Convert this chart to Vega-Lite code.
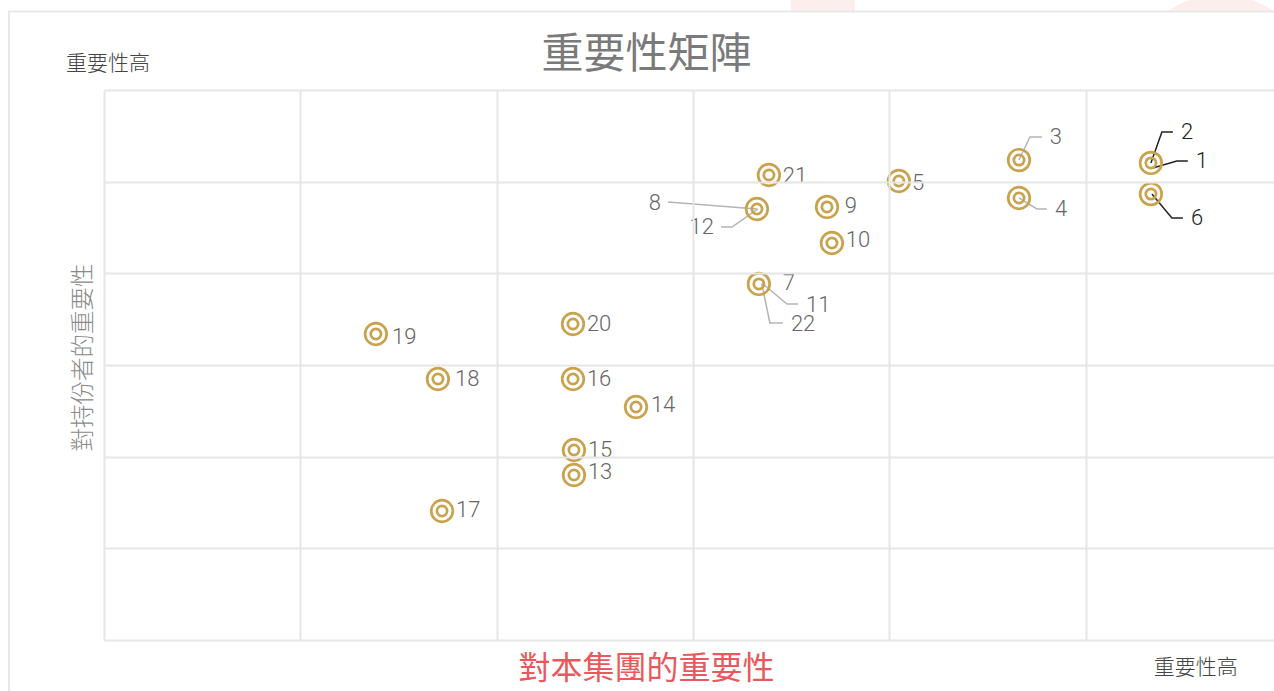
{
  "$schema": "https://vega.github.io/schema/vega-lite/v6.json",
  "autosize": "none",
  "width": 1170,
  "height": 550,
  "padding": {"left": 104, "right": 0, "top": 90, "bottom": 51},
  "background": "white",
  "view": {"stroke": null},
  "config": {
    "font": "Noto Sans CJK TC",
    "axis": {"domain": false, "ticks": false, "labels": false, "gridColor": "#e6e6e6", "gridWidth": 2}
  },
  "datasets": {
    "points": [
      {"id": "1", "x": 5.333, "y": 5.204},
      {"id": "3", "x": 4.661, "y": 5.236},
      {"id": "4", "x": 4.661, "y": 4.822},
      {"id": "5", "x": 4.049, "y": 5.007},
      {"id": "6", "x": 5.333, "y": 4.865},
      {"id": "7", "x": 3.336, "y": 3.884},
      {"id": "8", "x": 3.326, "y": 4.702},
      {"id": "9", "x": 3.683, "y": 4.724},
      {"id": "10", "x": 3.708, "y": 4.331},
      {"id": "13", "x": 2.394, "y": 1.8},
      {"id": "14", "x": 2.71, "y": 2.542},
      {"id": "15", "x": 2.394, "y": 2.073},
      {"id": "16", "x": 2.389, "y": 2.847},
      {"id": "17", "x": 1.722, "y": 1.407},
      {"id": "18", "x": 1.701, "y": 2.847},
      {"id": "19", "x": 1.385, "y": 3.338},
      {"id": "20", "x": 2.389, "y": 3.447},
      {"id": "21", "x": 3.387, "y": 5.073}
    ],
    "labels": [
      {"id": "1", "tier": "key", "side": "left", "lx": 5.562, "ly": 5.225},
      {"id": "2", "tier": "key", "side": "left", "lx": 5.486, "ly": 5.542},
      {"id": "3", "tier": "other", "side": "left", "lx": 4.818, "ly": 5.487},
      {"id": "4", "tier": "other", "side": "left", "lx": 4.844, "ly": 4.702},
      {"id": "5", "tier": "other", "side": "left", "lx": 4.116, "ly": 4.985},
      {"id": "6", "tier": "key", "side": "left", "lx": 5.537, "ly": 4.604},
      {"id": "7", "tier": "other", "side": "left", "lx": 3.458, "ly": 3.895},
      {"id": "8", "tier": "other", "side": "right", "lx": 2.837, "ly": 4.767},
      {"id": "9", "tier": "other", "side": "left", "lx": 3.774, "ly": 4.735},
      {"id": "10", "tier": "other", "side": "left", "lx": 3.779, "ly": 4.364},
      {"id": "11", "tier": "other", "side": "left", "lx": 3.576, "ly": 3.655},
      {"id": "12", "tier": "other", "side": "right", "lx": 3.107, "ly": 4.505},
      {"id": "13", "tier": "other", "side": "left", "lx": 2.465, "ly": 1.833},
      {"id": "14", "tier": "other", "side": "left", "lx": 2.786, "ly": 2.564},
      {"id": "15", "tier": "other", "side": "left", "lx": 2.465, "ly": 2.073},
      {"id": "16", "tier": "other", "side": "left", "lx": 2.46, "ly": 2.847},
      {"id": "17", "tier": "other", "side": "left", "lx": 1.793, "ly": 1.418},
      {"id": "18", "tier": "other", "side": "left", "lx": 1.788, "ly": 2.847},
      {"id": "19", "tier": "other", "side": "left", "lx": 1.467, "ly": 3.305},
      {"id": "20", "tier": "other", "side": "left", "lx": 2.46, "ly": 3.447},
      {"id": "21", "tier": "other", "side": "left", "lx": 3.458, "ly": 5.062},
      {"id": "22", "tier": "other", "side": "left", "lx": 3.499, "ly": 3.447}
    ],
    "leaders": [
      {"id": "1", "tier": "key", "ord": 1, "x": 5.343, "y": 5.149},
      {"id": "1", "tier": "key", "ord": 2, "x": 5.465, "y": 5.225},
      {"id": "1", "tier": "key", "ord": 3, "x": 5.521, "y": 5.225},
      {"id": "2", "tier": "key", "ord": 1, "x": 5.333, "y": 5.204},
      {"id": "2", "tier": "key", "ord": 2, "x": 5.389, "y": 5.542},
      {"id": "2", "tier": "key", "ord": 3, "x": 5.445, "y": 5.542},
      {"id": "6", "tier": "key", "ord": 1, "x": 5.338, "y": 4.865},
      {"id": "6", "tier": "key", "ord": 2, "x": 5.44, "y": 4.604},
      {"id": "6", "tier": "key", "ord": 3, "x": 5.496, "y": 4.604},
      {"id": "3", "tier": "other", "ord": 1, "x": 4.661, "y": 5.236},
      {"id": "3", "tier": "other", "ord": 2, "x": 4.717, "y": 5.487},
      {"id": "3", "tier": "other", "ord": 3, "x": 4.778, "y": 5.487},
      {"id": "4", "tier": "other", "ord": 1, "x": 4.661, "y": 4.822},
      {"id": "4", "tier": "other", "ord": 2, "x": 4.752, "y": 4.702},
      {"id": "4", "tier": "other", "ord": 3, "x": 4.803, "y": 4.702},
      {"id": "8", "tier": "other", "ord": 1, "x": 2.873, "y": 4.778},
      {"id": "8", "tier": "other", "ord": 2, "x": 3.326, "y": 4.702},
      {"id": "12", "tier": "other", "ord": 1, "x": 3.143, "y": 4.505},
      {"id": "12", "tier": "other", "ord": 2, "x": 3.199, "y": 4.505},
      {"id": "12", "tier": "other", "ord": 3, "x": 3.331, "y": 4.702},
      {"id": "11", "tier": "other", "ord": 1, "x": 3.351, "y": 3.895},
      {"id": "11", "tier": "other", "ord": 2, "x": 3.479, "y": 3.665},
      {"id": "11", "tier": "other", "ord": 3, "x": 3.535, "y": 3.665},
      {"id": "22", "tier": "other", "ord": 1, "x": 3.351, "y": 3.884},
      {"id": "22", "tier": "other", "ord": 2, "x": 3.392, "y": 3.458},
      {"id": "22", "tier": "other", "ord": 3, "x": 3.458, "y": 3.458}
    ]
  },
  "layer": [
    {
      "data": {"name": "points"},
      "mark": {"type": "point", "shape": "circle", "filled": false, "stroke": "#c9a24e", "strokeWidth": 2.7, "opacity": 0, "size": 467},
      "encoding": {
        "x": {"field": "x", "type": "quantitative", "scale": {"domain": [0, 5.96], "nice": false, "zero": false}, "axis": {"values": [0, 1, 2, 3, 4, 5, 6], "zindex": 1, "grid": true, "title": "對本集團的重要性", "titleFont": "Noto Sans CJK TC", "titleFontSize": 32, "titleFontWeight": "normal", "titleColor": "#e8585c", "titleX": 542, "titleY": 28, "titleAlign": "center", "titleBaseline": "middle"}},
        "y": {"field": "y", "type": "quantitative", "scale": {"domain": [0, 6], "nice": false, "zero": false}, "axis": {"values": [0, 1, 2, 3, 4, 5, 6], "zindex": 1, "grid": true, "title": "對持份者的重要性", "titleFont": "Noto Sans CJK TC", "titleFontSize": 23.5, "titleFontWeight": 300, "titleColor": "#8a8a8a", "titleX": -21, "titleY": 267, "titleAlign": "center", "titleBaseline": "middle"}}
      }
    },
    {
      "data": {"values": [{}]},
      "mark": {"type": "rect", "color": "#fdeeee"},
      "encoding": {
        "x": {"datum": 3.499, "type": "quantitative"},
        "x2": {"datum": 3.825},
        "y": {"datum": 6.982, "type": "quantitative"},
        "y2": {"datum": 6.856}
      }
    },
    {
      "data": {"values": [{}]},
      "mark": {"type": "point", "shape": "circle", "filled": true, "color": "#fdeeee", "opacity": 1, "size": 36864},
      "encoding": {
        "x": {"datum": 5.689, "type": "quantitative"},
        "y": {"datum": 5.989, "type": "quantitative"}
      }
    },
    {
      "data": {"values": [{}]},
      "mark": {"type": "rect", "fill": "white", "stroke": "#e8e8e8", "strokeWidth": 2},
      "encoding": {
        "x": {"datum": -0.484, "type": "quantitative"},
        "x2": {"datum": 6.5},
        "y": {"datum": 6.856, "type": "quantitative"},
        "y2": {"datum": -1}
      }
    },
    {
      "data": {"name": "leaders"},
      "mark": {"type": "line", "strokeWidth": 1.5, "interpolate": "linear"},
      "encoding": {
        "x": {"field": "x", "type": "quantitative"},
        "y": {"field": "y", "type": "quantitative"},
        "detail": {"field": "id"},
        "order": {"field": "ord"},
        "color": {"condition": {"test": "datum.tier === 'key'", "value": "#222222"}, "value": "#b5b5b5"}
      }
    },
    {
      "data": {"name": "points"},
      "mark": {"type": "point", "shape": "circle", "filled": false, "stroke": "#c9a24e", "strokeWidth": 2.7, "opacity": 1, "size": 467},
      "encoding": {
        "x": {"field": "x", "type": "quantitative"},
        "y": {"field": "y", "type": "quantitative"}
      }
    },
    {
      "data": {"name": "points"},
      "mark": {"type": "point", "shape": "circle", "filled": false, "stroke": "#c9a24e", "strokeWidth": 2.7, "opacity": 1, "size": 106},
      "encoding": {
        "x": {"field": "x", "type": "quantitative"},
        "y": {"field": "y", "type": "quantitative"}
      }
    },
    {
      "data": {"name": "labels"},
      "transform": [{"filter": "datum.side === 'left'"}],
      "mark": {"type": "text", "align": "left", "baseline": "middle", "font": "Roboto", "fontSize": 22, "fontWeight": 300},
      "encoding": {
        "x": {"field": "lx", "type": "quantitative"},
        "y": {"field": "ly", "type": "quantitative"},
        "text": {"field": "id"},
        "color": {"condition": {"test": "datum.tier === 'key'", "value": "#222222"}, "value": "#666666"}
      }
    },
    {
      "data": {"name": "labels"},
      "transform": [{"filter": "datum.side === 'right'"}],
      "mark": {"type": "text", "align": "right", "baseline": "middle", "font": "Roboto", "fontSize": 22, "fontWeight": 300, "color": "#666666"},
      "encoding": {
        "x": {"field": "lx", "type": "quantitative"},
        "y": {"field": "ly", "type": "quantitative"},
        "text": {"field": "id"}
      }
    },
    {
      "data": {"values": [{"t": "重要性高", "cx": 0.02, "cy": 6.284}, {"t": "重要性高", "cx": 5.562, "cy": -0.305}]},
      "mark": {"type": "text", "align": "center", "baseline": "middle", "font": "Noto Sans CJK TC", "fontSize": 21, "fontWeight": 300, "color": "#444444"},
      "encoding": {
        "x": {"field": "cx", "type": "quantitative"},
        "y": {"field": "cy", "type": "quantitative"},
        "text": {"field": "t"}
      }
    },
    {
      "data": {"values": [{"t": "重要性矩陣", "cx": 2.763, "cy": 6.382}]},
      "mark": {"type": "text", "align": "center", "baseline": "middle", "font": "Noto Sans CJK TC", "fontSize": 42, "fontWeight": "normal", "color": "#7a7a7a"},
      "encoding": {
        "x": {"field": "cx", "type": "quantitative"},
        "y": {"field": "cy", "type": "quantitative"},
        "text": {"field": "t"}
      }
    }
  ]
}
